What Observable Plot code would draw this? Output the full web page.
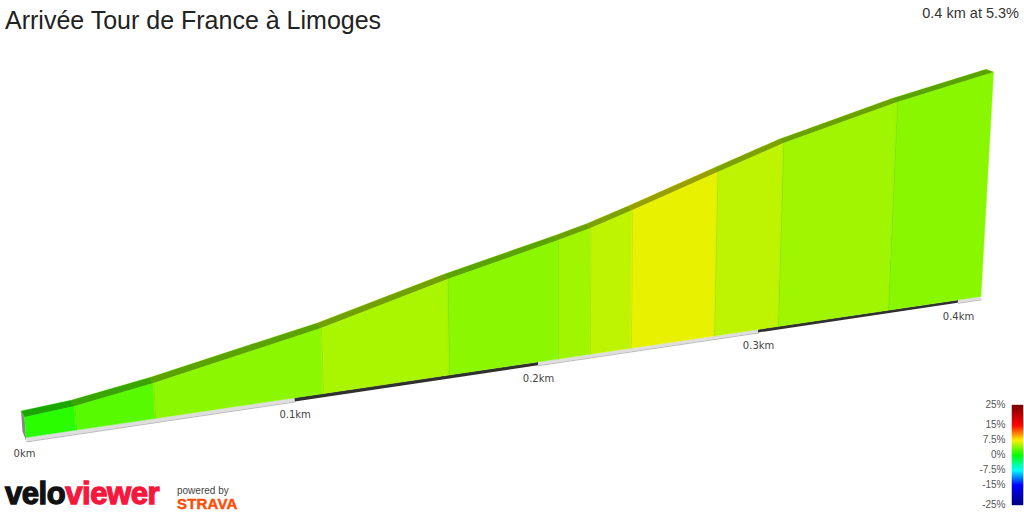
<!DOCTYPE html>
<html><head><meta charset="utf-8">
<script src="https://cdn.jsdelivr.net/npm/d3@7"></script>
<script src="https://cdn.jsdelivr.net/npm/@observablehq/plot@0.6"></script>
<style>
html,body{margin:0;padding:0;background:#fff;width:1024px;height:512px;overflow:hidden;font-family:"Liberation Sans",Arial,sans-serif}
#wrap{position:relative;width:1024px;height:512px}
#wrap>*{position:absolute}
#title{left:5px;top:6px;font-size:25px;line-height:28px;color:#222;white-space:nowrap}
#sub{right:5px;top:4px;font-size:14.5px;line-height:18px;color:#333;white-space:nowrap}
#chart{left:0;top:0}
#legend{left:964px;top:395px}
#velo{left:5px;top:479px;font-size:31px;line-height:30px;font-weight:700;letter-spacing:-.45px;-webkit-text-stroke:1.3px currentColor;white-space:nowrap;color:#111}
#velo span{color:#f8173c}
#powered{left:177px;top:485px;font-size:10px;line-height:12px;color:#444;white-space:nowrap}
#strava{left:177px;top:497px;font-size:15px;line-height:14px;font-weight:700;color:#fc4c02;letter-spacing:.2px;-webkit-text-stroke:.4px #fc4c02;white-space:nowrap}
</style></head>
<body>
<div id="wrap">
<div id="chart"></div>
<div id="legend"></div>
<div id="title">Arrivée Tour de France à Limoges</div>
<div id="sub">0.4 km at 5.3%</div>
<div id="velo">velo<span>viewer</span></div>
<div id="powered">powered by</div>
<div id="strava">STRAVA</div>
</div>
<script>
// chart values
const segmentKm = [0.0007, 0.0184, 0.0471, 0.1111, 0.1622, 0.2087, 0.2227, 0.241, 0.2792, 0.3095, 0.3639, 0.4121];
const elevationM = [0, 0.32, 1.35, 4.19, 7.17, 9.56, 10.34, 11.6, 14.39, 16.57, 19.6, 21.76];
const gradePct = [1.2, 2.6, 4.1, 5.0, 4.1, 4.7, 5.6, 6.8, 5.6, 4.7, 4.0];
const tickKm = [0, 0.1, 0.2, 0.3, 0.4];
const gradeStops = [-25, -15, -7.5, 0, 7.5, 15, 25];
const gradeColors = ["#00007a", "#0000ff", "#00ffff", "#00ff00", "#fff000", "#ff0000", "#7a0000"];

// 3D view: road distance and elevation to the drawing plane
const K = 11.75, slabM = 1.745, persp = 0.5595;
function view(km, m, depth = 0) {
  const w = 1 / (1 + persp * km);
  const xb = (2871 * km + 24) * w;
  const yb = 437.5 - 0.1476 * (xb - 26);
  const h = w * K * (m + slabM);
  return {
    x: xb + (xb - 560) / 7500 * h - depth * (3.5 + 4 * (km / 0.41) ** 4),
    y: yb - h - depth * (6 - 3.2 * km / 0.41)
  };
}
const row = (seg, grade, a, b) => ({seg, grade, x1: a.x, y1: a.y, x2: b.x, y2: b.y});
const startKm = segmentKm[0], endKm = segmentKm[segmentKm.length - 1];

const faces = gradePct.flatMap((grade, i) => [i, i + 1].map(j =>
  row(i, grade, view(segmentKm[j], -slabM), view(segmentKm[j], elevationM[j]))));
const road = gradePct.flatMap((grade, i) => [i, i + 1].map(j =>
  row(i, grade, view(segmentKm[j], elevationM[j]), view(segmentKm[j], elevationM[j], 1))));
const walls = segmentKm.slice(1, -1).map((km, i) => row(i, 0, view(km, -slabM), view(km, elevationM[i + 1])));
const side = [0, 1].map(d => row(0, 0, view(startKm, -slabM - (1 - d) * 0.3, d), view(startKm, 0, d)));

const kmBands = [startKm, ...tickKm.slice(1), endKm];
const bands = kmBands.slice(0, -1).flatMap((km, i) => [km, kmBands[i + 1]].map(k =>
  ({...row(i, 0, view(k, -slabM), view(k, -slabM - (0.33 - 0.04 * k / 0.41))), dark: i % 2 === 1})));
const tickRows = tickKm.map(km => ({km, ...view(km, -slabM), label: km === 0 ? "0km" : km + "km"}));

const colorScale = {type: "linear", domain: gradeStops, range: gradeColors};

document.getElementById("chart").append(Plot.plot({
  width: 1024, height: 512, margin: 0,
  x: {domain: [0, 1024], range: [0, 1024], axis: null},
  y: {domain: [0, 512], range: [0, 512], axis: null},
  color: colorScale,
  style: {background: "transparent", fontFamily: "DejaVu Sans, sans-serif"},
  marks: [
    Plot.area(side, {x1: "x1", y1: "y1", x2: "x2", y2: "y2", fill: "#858585"}),
    Plot.area(bands.filter(d => !d.dark), {x1: "x1", y1: "y1", x2: "x2", y2: "y2", z: "seg", fill: "#dedede"}),
    Plot.line(bands.filter(d => !d.dark), {x: "x2", y: "y2", z: "seg", stroke: "#aaa", strokeWidth: 0.8}),
    Plot.area(bands.filter(d => d.dark), {x1: "x1", y1: "y1", x2: "x2", y2: "y2", z: "seg", fill: "#303030"}),
    Plot.area(faces, {x1: "x1", y1: "y1", x2: "x2", y2: "y2", z: "seg", fill: "grade", stroke: "grade", strokeWidth: 0.4}),
    Plot.area(road, {x1: "x1", y1: "y1", x2: "x2", y2: "y2", z: "seg", fill: "grade", stroke: "grade", strokeWidth: 0.4}),
    Plot.area(road, {x1: "x1", y1: "y1", x2: "x2", y2: "y2", z: "seg", fill: "#000", fillOpacity: 0.34}),
    Plot.link(walls, {x1: "x1", y1: "y1", x2: "x2", y2: "y2", stroke: "#000", strokeOpacity: 0.07, strokeWidth: 1}),
    Plot.text(tickRows, {x: "x", y: "y", text: "label", dy: 16, fontSize: 10, fill: "#444", textAnchor: "middle"})
  ]
}));

// colour ramp with its own grade axis
const ramp = d3.range(-25, 25, 0.5);
document.getElementById("legend").append(Plot.plot({
  width: 60, height: 120,
  marginLeft: 48, marginRight: 1, marginTop: 10, marginBottom: 10,
  x: {axis: null},
  y: {domain: [-25, 25]},
  color: colorScale,
  style: {background: "transparent", fontFamily: "Liberation Sans, Arial, sans-serif"},
  marks: [
    Plot.rect(ramp, {y1: d => d, y2: d => d + 0.5, fill: d => d + 0.25, inset: -0.2}),
    Plot.axisY({ticks: gradeStops, tickSize: 0, tickPadding: 7, fontSize: 10, color: "#555", dy: -1, tickFormat: d => d + "%", label: null})
  ]
}));
</script>
</body></html>
